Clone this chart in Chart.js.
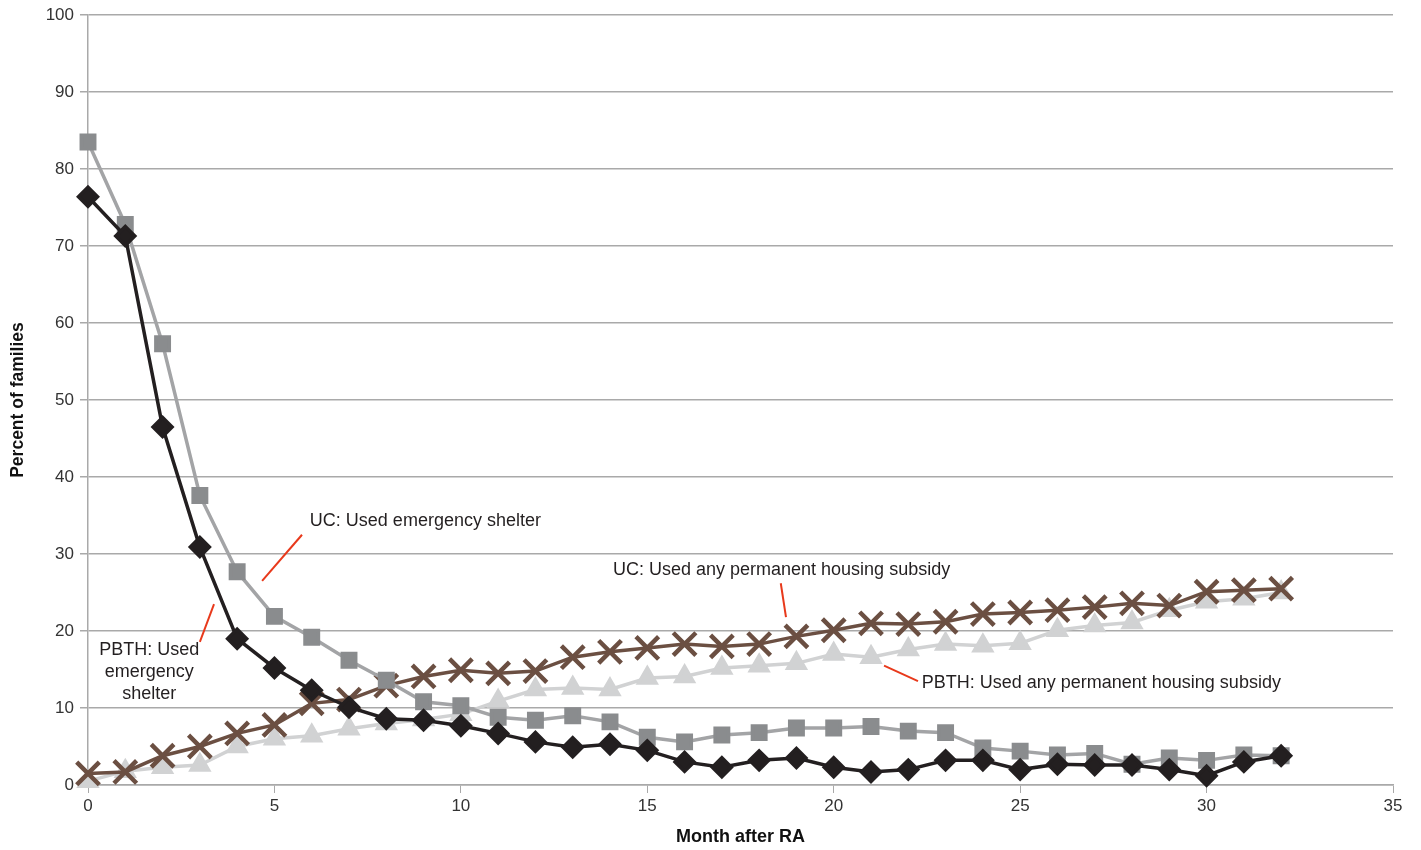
<!DOCTYPE html>
<html>
<head>
<meta charset="utf-8">
<script src="https://cdn.jsdelivr.net/npm/chart.js@4/dist/chart.umd.min.js"></script>
<style>
    body { margin: 0; background: #fff; }
    #wrap { width: 1421px; height: 850px; }
</style>
</head>
<body>
<div id="wrap"><canvas id="housingChart"></canvas></div>
<script>
// months after random assignment
const months = [0, 1, 2, 3, 4, 5, 6, 7, 8, 9, 10, 11, 12, 13, 14, 15, 16, 17, 18, 19, 20, 21, 22, 23, 24, 25, 26, 27, 28, 29, 30, 31, 32]

// percent of families
const ucShelter = [83.5, 72.8, 57.3, 37.6, 27.7, 21.9, 19.2, 16.2, 13.6, 10.8, 10.3, 8.8, 8.4, 9.0, 8.2, 6.2, 5.6, 6.5, 6.8, 7.4, 7.4, 7.6, 7.0, 6.8, 4.8, 4.4, 3.9, 4.1, 2.7, 3.5, 3.2, 3.9, 3.8]
const pbthShelter = [76.4, 71.3, 46.5, 30.9, 19.0, 15.2, 12.3, 10.1, 8.6, 8.4, 7.7, 6.7, 5.6, 4.9, 5.3, 4.5, 3.0, 2.3, 3.2, 3.5, 2.3, 1.7, 2.0, 3.2, 3.2, 2.0, 2.7, 2.6, 2.6, 2.0, 1.2, 3.0, 3.8]
const ucSubsidy = [1.5, 1.7, 3.8, 5.0, 6.7, 7.8, 10.6, 11.1, 12.9, 14.1, 14.9, 14.5, 14.8, 16.6, 17.3, 17.8, 18.3, 18.0, 18.3, 19.3, 20.1, 21.0, 20.9, 21.2, 22.2, 22.4, 22.7, 23.1, 23.6, 23.3, 25.1, 25.3, 25.5]
const pbthSubsidy = [0.5, 1.8, 2.3, 2.6, 5.0, 6.0, 6.4, 7.3, 8.0, 8.5, 9.2, 10.9, 12.4, 12.6, 12.4, 13.9, 14.1, 15.2, 15.5, 15.8, 17.0, 16.6, 17.6, 18.3, 18.1, 18.4, 20.1, 20.7, 21.1, 22.7, 23.8, 24.2, 25.0]

// y axis ticks
const yTicks = [0, 10, 20, 30, 40, 50, 60, 70, 80, 90, 100]

// callout labels: [text lines, x, y (data units), align], leaders: [x1, y1, x2, y2]
const labels = [
    [['UC: Used emergency shelter'], 5.95, 34.3, 'left'],
    [['PBTH: Used', 'emergency', 'shelter'], 1.64, 17.5, 'center'],
    [['UC: Used any permanent housing subsidy'], 14.08, 27.9, 'left'],
    [['PBTH: Used any permanent housing subsidy'], 22.36, 13.2, 'left']
]
const leaders = [
    [5.74, 32.5, 4.67, 26.5],
    [3.38, 23.5, 3.0, 18.6],
    [18.58, 26.2, 18.72, 21.8],
    [21.35, 15.5, 22.26, 13.5]
]

function toPoints(arr) {
    return months.map((m, i) => ({ x: m, y: arr[i] }))
}

const FONT = '"Liberation Sans", Arial, sans-serif'
const GRID = '#a9a9a9'

// draws the callout text and red leader lines
const calloutPlugin = {
    id: 'callouts',
    afterDatasetsDraw: function (chart) {
        var ctx = chart.ctx
        var xs = chart.scales.x
        var ys = chart.scales.y
        ctx.save()
        ctx.strokeStyle = '#e8391b'
        ctx.lineWidth = 2
        leaders.forEach(l => {
            ctx.beginPath()
            ctx.moveTo(xs.getPixelForValue(l[0]), ys.getPixelForValue(l[1]))
            ctx.lineTo(xs.getPixelForValue(l[2]), ys.getPixelForValue(l[3]))
            ctx.stroke()
        })
        ctx.fillStyle = '#231f20'
        ctx.font = '18px ' + FONT
        ctx.textBaseline = 'middle'
        labels.forEach(lab => {
            ctx.textAlign = lab[3]
            var px = xs.getPixelForValue(lab[1])
            var py = ys.getPixelForValue(lab[2])
            lab[0].forEach((line, i) => {
                ctx.fillText(line, px, py + i * 22)
            })
        })
        ctx.restore()
    }
}

var ctx = document.getElementById('housingChart').getContext('2d')
var housingChart = new Chart(ctx, {
    type: 'line',
    data: {
        datasets: [{
            label: 'PBTH: Used emergency shelter',
            data: toPoints(pbthShelter),
            borderColor: '#231f20',
            backgroundColor: '#231f20',
            borderWidth: 3.5,
            pointStyle: 'rectRot',
            pointRadius: 9.5,
            clip: false,
            order: 1
        }, {
            label: 'UC: Used emergency shelter',
            data: toPoints(ucShelter),
            borderColor: '#a3a4a6',
            backgroundColor: '#8a8c8e',
            pointBorderColor: '#8a8c8e',
            borderWidth: 3.5,
            pointStyle: 'rect',
            pointRadius: 9.5,
            clip: false,
            order: 2
        }, {
            label: 'UC: Used any permanent housing subsidy',
            data: toPoints(ucSubsidy),
            borderColor: '#6b4f42',
            backgroundColor: '#6b4f42',
            borderWidth: 3.5,
            pointStyle: 'crossRot',
            pointRadius: 16,
            pointBorderWidth: 4.5,
            clip: false,
            order: 3
        }, {
            label: 'PBTH: Used any permanent housing subsidy',
            data: toPoints(pbthSubsidy),
            borderColor: '#d1d2d3',
            backgroundColor: '#d1d2d3',
            borderWidth: 3.5,
            pointStyle: 'triangle',
            pointRadius: 10,
            clip: false,
            order: 4
        }]
    },
    options: {
        responsive: true,
        maintainAspectRatio: false,
        animation: false,
        layout: {
            autoPadding: false,
            padding: { top: 15, right: 28, left: 0, bottom: 0 }
        },
        plugins: {
            legend: { display: false },
            tooltip: { enabled: false }
        },
        elements: {
            line: { tension: 0 },
            point: { borderWidth: 1 }
        },
        scales: {
            x: {
                type: 'linear',
                min: 0,
                max: 35,
                afterFit: function (scale) {
                    scale.height = 65
                    scale.paddingLeft = 0
                    scale.paddingRight = 0
                },
                ticks: {
                    stepSize: 5,
                    color: '#333',
                    padding: 3,
                    font: { family: FONT, size: 17 }
                },
                grid: {
                    drawOnChartArea: false,
                    color: GRID,
                    tickLength: 8
                },
                border: { color: GRID, width: 1.5 },
                title: {
                    display: true,
                    text: 'Month after RA',
                    color: '#111',
                    padding: { top: 0, bottom: 2 },
                    font: { family: FONT, size: 18, weight: 'bold' }
                }
            },
            y: {
                min: 0,
                max: 100,
                afterFit: function (scale) {
                    scale.width = 88
                    scale.paddingTop = 0
                    scale.paddingBottom = 0
                },
                afterBuildTicks: function (scale) {
                    scale.ticks = yTicks.map(v => ({ value: v }))
                },
                ticks: {
                    color: '#333',
                    padding: 6,
                    font: { family: FONT, size: 17 }
                },
                grid: {
                    color: GRID,
                    lineWidth: 1.5,
                    tickLength: 8
                },
                border: { color: GRID, width: 1.5 },
                title: {
                    display: true,
                    text: 'Percent of families',
                    color: '#111',
                    padding: { top: 8, bottom: 0 },
                    font: { family: FONT, size: 17.5, weight: 'bold' }
                }
            }
        }
    },
    plugins: [calloutPlugin]
});
</script>
</body>
</html>
